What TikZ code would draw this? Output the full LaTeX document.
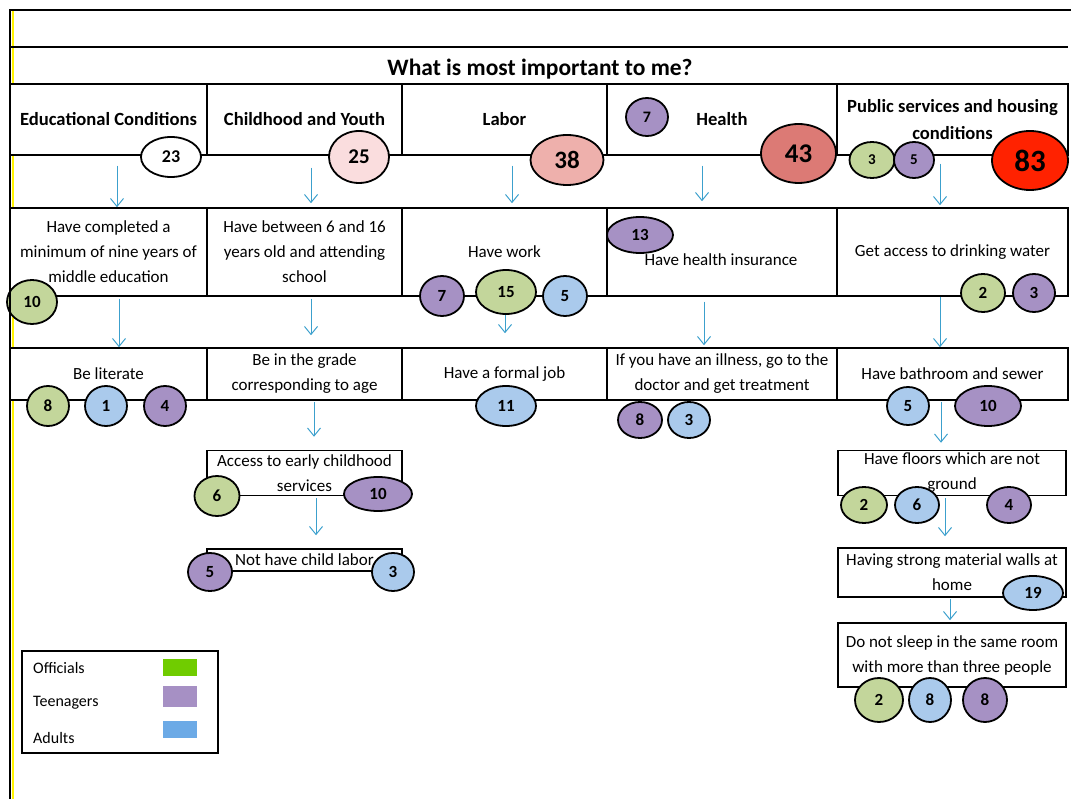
\documentclass[tikz,border=0pt]{standalone}
\usepackage{fontspec}
\setmainfont{Carlito}
\usetikzlibrary{shapes.geometric,arrows.meta}
\definecolor{ArrowBlue}{RGB}{60,160,205}
\definecolor{OffGreen}{RGB}{195,214,155}
\definecolor{TeenPurple}{RGB}{166,145,196}
\definecolor{AdultBlue}{RGB}{170,202,236}
\definecolor{PinkA}{RGB}{250,221,222}
\definecolor{PinkB}{RGB}{238,176,172}
\definecolor{RedA}{RGB}{220,122,117}
\definecolor{RedB}{RGB}{255,34,0}
\definecolor{KeyGreen}{RGB}{112,204,0}
\definecolor{KeyPurple}{RGB}{166,144,196}
\definecolor{KeyBlue}{RGB}{108,170,230}
\newcommand\cellfont{\fontsize{17}{25}\selectfont}
\tikzset{
	cell/.style={draw=black,fill=white,line width=1.5pt,inner sep=0pt,align=center,font=\cellfont},
	head/.style={cell,font=\bfseries\fontsize{18.6}{27}\selectfont},
	score/.style={ellipse,draw=black,line width=1.8pt,inner sep=0pt},
	arr/.style={draw=ArrowBlue,line width=1pt,-{Straight Barb[length=8pt,width=13pt]}},
	swatch/.style={minimum width=34pt,inner sep=0pt},
	keytext/.style={anchor=west,inner sep=0pt,font=\fontsize{16}{16}\selectfont},
}

\begin{document}
\begin{tikzpicture}[x=1pt,y=-1pt]
	\useasboundingbox (0,0) rectangle (1071,799);
	% frame
	\draw[yellow,line width=2pt] (12.5,11) -- (12.5,799);
	\draw[line width=2pt] (1071,10) -- (10,10) -- (10,799);
	\draw[line width=1.2pt] (10,47) -- (1068,47);
	\node[font=\bfseries\fontsize{23.5}{23.5}\selectfont] (title) at (540,69) {What is most important to me?};
	
	% row 1
	\node[head,minimum width=197,minimum height=71] (e1) at (108.5,119.5) {Educational Conditions};
	\node[head,minimum width=195,minimum height=71] (c1) at (304.5,119.5) {Childhood and Youth};
	\node[head,minimum width=205,minimum height=71] (l1) at (504.5,119.5) {Labor};
	\node[head,minimum width=230,minimum height=71] (h1) at (722,119.5) {Health};
	\node[head,minimum width=231,minimum height=71] (p1) at (952.5,119.5) {Public services and housing\\conditions};
	
	% row 2
	\node[cell,minimum width=197,minimum height=88] (e2) at (108.5,252) {Have completed a\\minimum of nine years of\\middle education};
	\node[cell,minimum width=195,minimum height=88] (c2) at (304.5,252) {Have between 6 and 16\\years old and attending\\school};
	\node[cell,minimum width=205,minimum height=88] (l2) at (504.5,252) {Have work};
	\node[cell,minimum width=230,minimum height=88] (h2) at (722,252) {};
	\node[font=\cellfont] (h2t) at (721,260) {Have health insurance};
	\node[cell,minimum width=231,minimum height=88] (p2) at (952.5,252) {Get access to drinking water};
	
	% row 3
	\node[cell,minimum width=197,minimum height=52] (e3) at (108.5,374) {Be literate};
	\node[cell,minimum width=195,minimum height=52] (c3) at (304.5,374) {Be in the grade\\corresponding to age};
	\node[cell,minimum width=205,minimum height=52] (l3) at (504.5,374) {Have a formal job};
	\node[cell,minimum width=230,minimum height=52] (h3) at (722,374) {If you have an illness, go to the\\doctor and get treatment};
	\node[cell,minimum width=231,minimum height=52] (p3) at (952.5,374) {Have bathroom and sewer};
	
	% lower boxes
	\node[cell,minimum width=195,minimum height=45] (acc) at (304.5,473) {Access to early childhood\\services};
	\node[cell,minimum width=195,minimum height=22] (lab) at (304.5,560) {Not have child labor};
	\node[cell,minimum width=228,minimum height=45] (flo) at (952,473) {Have floors which are not\\ground};
	\node[cell,minimum width=228,minimum height=49] (wal) at (952,572.5) {Having strong material walls at\\home};
	\node[cell,minimum width=228,minimum height=64] (slp) at (952,655) {Do not sleep in the same room\\with more than three people};
	
	% arrows
	\draw[arr,shorten <=10pt] ([xshift=8.5pt]e1.south) -- ([xshift=8.5pt]e1.south |- e2.north);
	\draw[arr,shorten <=12pt,shorten >=4pt] ([xshift=6.5pt]c1.south) -- ([xshift=6.5pt]c1.south |- c2.north);
	\draw[arr,shorten <=10pt,shorten >=4pt] ([xshift=7.5pt]l1.south) -- ([xshift=7.5pt]l1.south |- l2.north);
	\draw[arr,shorten <=10pt,shorten >=6pt] ([xshift=-20pt]h1.south) -- ([xshift=-20pt]h1.south |- h2.north);
	\draw[arr,shorten <=8pt,shorten >=2pt] ([xshift=-12.5pt]p1.south) -- ([xshift=-12.5pt]p1.south |- p2.north);
	\draw[arr,shorten <=2pt] ([xshift=10.5pt]e2.south) -- ([xshift=10.5pt]e2.south |- e3.north);
	\draw[arr,shorten <=2pt,shorten >=12pt] ([xshift=6.5pt]c2.south) -- ([xshift=6.5pt]c2.south |- c3.north);
	\draw[arr,shorten <=15pt,shorten >=14pt] ([xshift=0.5pt]l2.south) -- ([xshift=0.5pt]l2.south |- l3.north);
	\draw[arr,shorten <=5pt,shorten >=2pt] ([xshift=-18pt]h2.south) -- ([xshift=-18pt]h2.south |- h3.north);
	\draw[arr] ([xshift=-12.5pt]p2.south) -- ([xshift=-12.5pt]p2.south |- p3.north);
	\draw[arr,shorten <=1pt,shorten >=13pt] ([xshift=9.5pt]c3.south) -- ([xshift=9.5pt]c3.south |- acc.north);
	\draw[arr,shorten <=1pt,shorten >=7pt] ([xshift=-11.5pt]p3.south) -- ([xshift=-11.5pt]p3.south |- flo.north);
	\draw[arr,shorten <=2pt,shorten >=13pt] ([xshift=11.5pt]acc.south) -- ([xshift=11.5pt]acc.south |- lab.north);
	\draw[arr,shorten <=2pt,shorten >=11pt] ([xshift=-7pt]flo.south) -- ([xshift=-7pt]flo.south |- wal.north);
	\draw[arr,shorten <=1pt,shorten >=2pt] ([xshift=-2pt]wal.south) -- ([xshift=-2pt]wal.south |- slp.north);
	
	% scores
	\foreach \x/\y/\w/\h/\c/\f/\t [count=\i] in {
		171/157/60/40/white/18/23, 359/157/60/52/PinkA/21/25, 567/160/73/50/PinkB/25/38,
		798.5/153.5/75/59/RedA/27/43, 1030/160.5/76/59/RedB/31/83,
		647/117/42/38/TeenPurple/16/7, 872/160/45/36/OffGreen/15/3, 914/160/40/36/TeenPurple/15/5,
		32/302/50/44/OffGreen/17/10, 442/296/44/40/TeenPurple/17/7, 506/292/60/44/OffGreen/17/15,
		565/296/44/40/AdultBlue/17/5, 640/235/66/36/TeenPurple/17/13,
		983/293/44/38/OffGreen/17/2, 1034/293/42/38/TeenPurple/17/3,
		48/406/42/40/OffGreen/17/8, 106/406/42/40/AdultBlue/17/1, 165/406/42/40/TeenPurple/17/4,
		506/406/60/40/AdultBlue/17/11, 640/420/44/36/TeenPurple/17/8, 689/420/42/36/AdultBlue/17/3,
		908/406/42/38/AdultBlue/17/5, 988/406/66/40/TeenPurple/17/10,
		217/496/45/40/OffGreen/17/6, 378/494/68/34/TeenPurple/17/10,
		210/572/44/38/TeenPurple/17/5, 393/572/42/38/AdultBlue/17/3,
		864/505/46/36/OffGreen/17/2, 917/505/44/36/AdultBlue/17/6, 1009/505/44/36/TeenPurple/17/4,
		1033/593/60/34/AdultBlue/17/19,
		879/700/48/44/OffGreen/17/2, 930/700/42/44/AdultBlue/17/8, 985/700/44/44/TeenPurple/17/8}
	\node[score,fill=\c,minimum width=\w,minimum height=\h,font=\bfseries\fontsize{\f}{\f}\selectfont] (s\i) at (\x,\y) {\t};
	\draw[line width=2pt] (10,250) -- (10,350);
	
	% legend
	\node[draw=black,line width=2.5pt,minimum width=196,minimum height=102] (key) at (120,702) {};
	\node[keytext] (k1) at (33,668) {Officials};
	\node[keytext] (k2) at (33,703) {Teenagers};
	\node[keytext] (k3) at (33,738) {Adults};
	\node[swatch,fill=KeyGreen,minimum height=17] (w1) at (180,667.5) {};
	\node[swatch,fill=KeyPurple,minimum height=21] (w2) at (180,696.5) {};
	\node[swatch,fill=KeyBlue,minimum height=17] (w3) at (180,729.5) {};
\end{tikzpicture}
\end{document}
